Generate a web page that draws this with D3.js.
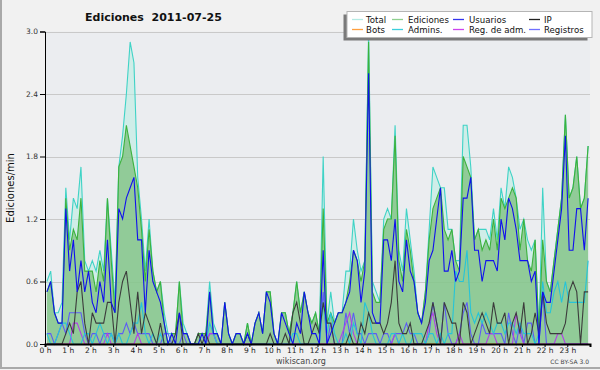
<!DOCTYPE html>
<html>
<head>
<meta charset="utf-8">
<script src="https://cdn.jsdelivr.net/npm/d3@7/dist/d3.min.js"></script>
<style>
  body { margin: 0; background: #f1f1f1; }
  svg { display: block; }
</style>
</head>
<body>
<script>
/* global d3 */

// one value per 10 minutes, one row per hour (0 h .. 23 h)
const total = [
  0.6, 0.7, 0.3, 0.3, 0.4, 1.5,
  1.0, 1.4, 1.3, 1.7, 0.8, 0.7,
  0.8, 0.7, 0.9, 0.7, 1.4, 0.9,
  0.4, 1.7, 2.0, 2.4, 2.9, 2.7,
  1.6, 1.2, 0.7, 1.2, 0.7, 0.5,
  0.6, 0.3, 0.1, 0.1, 0.1, 0.6,
  0.2, 0.1, 0.0, 0.0, 0.1, 0.1,
  0.1, 0.6, 0.2, 0.1, 0.0, 0.4,
  0.1, 0.0, 0.1, 0.1, 0.0, 0.2,
  0.0, 0.2, 0.3, 0.1, 0.5, 0.5,
  0.1, 0.0, 0.3, 0.3, 0.1, 0.3,
  0.6, 0.3, 0.5, 0.3, 0.2, 0.3,
  0.1, 1.8, 0.2, 0.5, 0.2, 0.3,
  0.3, 0.7, 0.7, 1.2, 0.9, 0.7,
  0.8, 3.0, 0.6, 0.5, 0.4, 1.2,
  1.3, 1.2, 2.1, 0.9, 0.7, 1.3,
  1.0, 0.7, 0.3, 0.2, 0.5, 1.1,
  1.7, 1.6, 1.5, 1.5, 1.1, 1.1,
  0.8, 0.8, 2.1, 2.1, 1.7, 1.0,
  1.1, 1.1, 1.1, 1.0, 1.3, 1.0,
  1.5, 1.3, 1.7, 1.6, 1.4, 1.1,
  1.2, 1.0, 0.9, 1.0, 0.1, 1.5,
  0.6, 0.5, 0.8, 1.1, 1.4, 2.2,
  1.4, 1.5, 1.8, 1.3, 1.4, 1.9
];
const ediciones = [
  0.5, 0.6, 0.3, 0.2, 0.2, 1.4,
  0.9, 1.1, 1.0, 1.4, 0.7, 0.7,
  0.7, 0.5, 0.8, 0.6, 1.4, 0.8,
  0.3, 1.7, 1.8, 2.1, 1.9, 1.7,
  1.5, 1.1, 0.6, 1.1, 0.7, 0.5,
  0.6, 0.2, 0.0, 0.1, 0.1, 0.6,
  0.1, 0.1, 0.0, 0.0, 0.1, 0.1,
  0.1, 0.5, 0.1, 0.1, 0.0, 0.4,
  0.1, 0.0, 0.1, 0.1, 0.0, 0.2,
  0.0, 0.2, 0.3, 0.1, 0.5, 0.5,
  0.1, 0.0, 0.3, 0.3, 0.1, 0.3,
  0.6, 0.3, 0.5, 0.3, 0.2, 0.3,
  0.1, 1.3, 0.2, 0.3, 0.2, 0.3,
  0.3, 0.4, 0.6, 0.9, 0.8, 0.6,
  0.8, 2.9, 0.5, 0.4, 0.4, 1.1,
  1.2, 1.2, 2.0, 0.8, 0.6, 1.1,
  0.9, 0.6, 0.3, 0.2, 0.5, 1.0,
  1.3, 1.4, 1.5, 1.1, 1.0, 1.1,
  0.8, 0.7, 1.8, 1.7, 1.6, 1.0,
  1.1, 0.9, 1.0, 0.9, 1.2, 0.9,
  1.4, 1.3, 1.4, 1.5, 1.4, 0.9,
  1.2, 0.8, 0.7, 1.0, 0.1, 1.0,
  0.6, 0.5, 0.8, 1.1, 1.4, 2.2,
  1.4, 1.5, 1.8, 1.3, 1.4, 1.9
];
const usuarios = [
  0.5, 0.6, 0.3, 0.2, 0.2, 1.3,
  0.7, 1.0, 0.5, 0.8, 0.5, 0.7,
  0.4, 0.3, 0.6, 0.4, 1.0, 0.4,
  0.3, 1.3, 1.2, 1.4, 1.5, 1.6,
  1.0, 1.0, 0.3, 0.9, 0.6, 0.5,
  0.4, 0.2, 0.0, 0.1, 0.0, 0.3,
  0.1, 0.1, 0.0, 0.0, 0.0, 0.1,
  0.0, 0.5, 0.1, 0.1, 0.0, 0.4,
  0.1, 0.0, 0.1, 0.1, 0.0, 0.1,
  0.0, 0.2, 0.3, 0.1, 0.5, 0.4,
  0.1, 0.0, 0.3, 0.2, 0.1, 0.0,
  0.2, 0.1, 0.5, 0.3, 0.1, 0.1,
  0.0, 0.9, 0.0, 0.1, 0.2, 0.3,
  0.3, 0.4, 0.5, 0.9, 0.8, 0.4,
  0.7, 2.6, 0.3, 0.2, 0.2, 1.0,
  1.0, 0.8, 1.2, 0.6, 0.5, 1.0,
  0.7, 0.6, 0.3, 0.2, 0.4, 0.8,
  0.9, 1.2, 1.5, 0.7, 0.7, 0.9,
  0.6, 0.7, 1.4, 1.4, 1.6, 0.9,
  0.9, 0.6, 0.8, 0.8, 0.8, 0.7,
  1.2, 1.0, 1.4, 1.3, 1.1, 0.8,
  0.8, 0.8, 0.6, 0.7, 0.0, 0.5,
  0.4, 0.4, 0.7, 1.0, 1.3, 2.0,
  0.9, 0.9, 1.3, 1.3, 0.9, 1.4
];
const ip = [
  0.0, 0.0, 0.0, 0.0, 0.0, 0.1,
  0.2, 0.1, 0.5, 0.6, 0.2, 0.0,
  0.3, 0.2, 0.2, 0.2, 0.4, 0.4,
  0.0, 0.4, 0.6, 0.7, 0.4, 0.1,
  0.5, 0.1, 0.3, 0.2, 0.1, 0.0,
  0.2, 0.0, 0.0, 0.0, 0.1, 0.3,
  0.0, 0.0, 0.0, 0.0, 0.1, 0.0,
  0.1, 0.0, 0.0, 0.0, 0.0, 0.0,
  0.0, 0.0, 0.0, 0.0, 0.0, 0.1,
  0.0, 0.0, 0.0, 0.0, 0.0, 0.1,
  0.0, 0.0, 0.0, 0.1, 0.0, 0.3,
  0.4, 0.2, 0.0, 0.0, 0.1, 0.2,
  0.1, 0.4, 0.2, 0.2, 0.0, 0.0,
  0.0, 0.0, 0.1, 0.0, 0.0, 0.2,
  0.1, 0.3, 0.2, 0.2, 0.2, 0.1,
  0.2, 0.4, 0.8, 0.2, 0.1, 0.1,
  0.2, 0.0, 0.0, 0.0, 0.1, 0.2,
  0.4, 0.2, 0.0, 0.4, 0.3, 0.2,
  0.2, 0.0, 0.4, 0.3, 0.0, 0.1,
  0.2, 0.3, 0.2, 0.1, 0.4, 0.2,
  0.2, 0.3, 0.0, 0.2, 0.3, 0.1,
  0.4, 0.0, 0.1, 0.3, 0.1, 0.5,
  0.2, 0.1, 0.1, 0.1, 0.1, 0.2,
  0.5, 0.6, 0.5, 0.0, 0.5, 0.5
];
const bots = [
  0, 0, 0, 0, 0, 0,  0, 0, 0, 0, 0, 0,  0, 0, 0, 0, 0, 0,  0, 0, 0, 0, 0, 0,
  0, 0, 0, 0, 0, 0,  0, 0, 0, 0, 0, 0,  0, 0, 0, 0, 0, 0,  0, 0, 0, 0, 0, 0,
  0, 0, 0, 0, 0, 0,  0, 0, 0, 0, 0, 0,  0, 0, 0, 0, 0, 0,  0, 0, 0, 0, 0, 0,
  0, 0, 0, 0, 0, 0,  0, 0, 0, 0, 0, 0,  0, 0, 0, 0, 0, 0,  0, 0, 0, 0, 0, 0,
  0, 0, 0, 0, 0, 0,  0, 0, 0, 0, 0, 0,  0, 0, 0, 0, 0, 0,  0, 0, 0, 0, 0, 0,
  0, 0, 0, 0, 0, 0,  0, 0, 0, 0, 0, 0,  0, 0, 0, 0, 0, 0,  0, 0, 0, 0, 0, 0
];
const admins = [
  0.1, 0.0, 0.0, 0.1, 0.2, 0.2,
  0.1, 0.0, 0.0, 0.0, 0.1, 0.1,
  0.0, 0.1, 0.2, 0.1, 0.0, 0.1,
  0.0, 0.1, 0.0, 0.0, 0.1, 0.2,
  0.2, 0.4, 0.1, 0.0, 0.1, 0.0,
  0.1, 0.0, 0.0, 0.0, 0.0, 0.0,
  0.0, 0.0, 0.0, 0.0, 0.0, 0.0,
  0.0, 0.2, 0.1, 0.0, 0.0, 0.0,
  0.0, 0.0, 0.0, 0.0, 0.0, 0.1,
  0.0, 0.0, 0.0, 0.0, 0.0, 0.0,
  0.0, 0.0, 0.0, 0.0, 0.0, 0.1,
  0.1, 0.0, 0.0, 0.0, 0.0, 0.0,
  0.0, 0.4, 0.1, 0.3, 0.1, 0.0,
  0.0, 0.1, 0.0, 0.2, 0.1, 0.0,
  0.4, 0.3, 0.1, 0.0, 0.0, 0.0,
  0.0, 0.1, 0.1, 0.0, 0.1, 0.0,
  0.0, 0.1, 0.1, 0.1, 0.0, 0.1,
  0.1, 0.0, 0.1, 0.0, 0.1, 0.1,
  0.7, 0.6, 0.6, 0.9, 0.3, 0.2,
  0.3, 0.2, 0.3, 0.2, 0.1, 0.2,
  0.2, 0.1, 0.2, 0.2, 0.1, 0.2,
  0.1, 0.1, 0.1, 0.0, 0.1, 0.6,
  0.3, 0.3, 0.5, 0.6, 0.4, 0.6,
  0.4, 0.4, 0.4, 0.4, 0.4, 0.8
];
const regAdm = [
  0.0, 0.0, 0.0, 0.0, 0.0, 0.0,
  0.0, 0.2, 0.2, 0.1, 0.0, 0.0,
  0.0, 0.0, 0.0, 0.0, 0.1, 0.0,
  0.0, 0.0, 0.0, 0.0, 0.0, 0.0,
  0.1, 0.0, 0.0, 0.0, 0.0, 0.0,
  0.0, 0.0, 0.0, 0.0, 0.0, 0.0,
  0.0, 0.0, 0.0, 0.0, 0.0, 0.0,
  0.0, 0.1, 0.1, 0.0, 0.0, 0.0,
  0.0, 0.0, 0.0, 0.0, 0.0, 0.0,
  0.0, 0.0, 0.0, 0.0, 0.0, 0.0,
  0.0, 0.0, 0.0, 0.0, 0.0, 0.0,
  0.0, 0.0, 0.0, 0.0, 0.0, 0.0,
  0.0, 0.0, 0.0, 0.0, 0.0, 0.0,
  0.1, 0.2, 0.3, 0.1, 0.0, 0.0,
  0.0, 0.0, 0.0, 0.0, 0.0, 0.0,
  0.0, 0.0, 0.1, 0.0, 0.0, 0.0,
  0.0, 0.0, 0.0, 0.0, 0.0, 0.2,
  0.3, 0.1, 0.0, 0.0, 0.0, 0.0,
  0.0, 0.1, 0.0, 0.0, 0.0, 0.0,
  0.0, 0.0, 0.0, 0.1, 0.1, 0.0,
  0.0, 0.0, 0.0, 0.0, 0.3, 0.1,
  0.0, 0.0, 0.0, 0.0, 0.0, 0.0,
  0.0, 0.0, 0.0, 0.1, 0.1, 0.0,
  0.0, 0.0, 0.0, 0.0, 0.0, 0.0
];
const registros = [
  0.1, 0.1, 0.0, 0.1, 0.2, 0.1,
  0.3, 0.3, 0.3, 0.3, 0.1, 0.0,
  0.1, 0.1, 0.0, 0.1, 0.1, 0.1,
  0.0, 0.1, 0.1, 0.2, 0.1, 0.2,
  0.1, 0.1, 0.1, 0.1, 0.0, 0.0,
  0.0, 0.1, 0.1, 0.0, 0.0, 0.0,
  0.1, 0.0, 0.0, 0.0, 0.0, 0.0,
  0.0, 0.1, 0.1, 0.0, 0.0, 0.0,
  0.0, 0.0, 0.0, 0.0, 0.0, 0.0,
  0.0, 0.0, 0.0, 0.0, 0.0, 0.0,
  0.0, 0.0, 0.0, 0.0, 0.0, 0.0,
  0.0, 0.0, 0.0, 0.0, 0.0, 0.0,
  0.0, 0.5, 0.0, 0.2, 0.0, 0.0,
  0.0, 0.3, 0.1, 0.3, 0.1, 0.1,
  0.0, 0.1, 0.1, 0.1, 0.0, 0.1,
  0.1, 0.0, 0.1, 0.1, 0.1, 0.2,
  0.1, 0.1, 0.0, 0.0, 0.0, 0.1,
  0.4, 0.2, 0.0, 0.4, 0.1, 0.0,
  0.0, 0.1, 0.3, 0.4, 0.1, 0.0,
  0.0, 0.2, 0.1, 0.1, 0.1, 0.1,
  0.1, 0.0, 0.3, 0.1, 0.0, 0.2,
  0.0, 0.2, 0.2, 0.0, 0.0, 0.5,
  0.0, 0.0, 0.0, 0.0, 0.0, 0.0,
  0.0, 0.0, 0.0, 0.0, 0.0, 0.0
];

const hours = d3.range(0, 24);
const yTicks = [0, 0.6, 1.2, 1.8, 2.4, 3.0];

/** lines drawn over the two areas, bottom-most first */
const lineSeries = [
  { name: "Bots", data: bots, color: "#ff9933" },
  { name: "Registros", data: registros, color: "#5c5cf5" },
  { name: "Reg. de adm.", data: regAdm, color: "#b23ee8" },
  { name: "Admins.", data: admins, color: "#26c4d8" },
  { name: "IP", data: ip, color: "#3c3c3c" },
  { name: "Usuarios", data: usuarios, color: "#1010ee" }
];

const legendRows = [
  [["Total", "#b4ebe4"], ["Ediciones", "#8fd08f"], ["Usuarios", "#3434ee"], ["IP", "#222"]],
  [["Bots", "#ffa040"], ["Admins.", "#3ccfdc"], ["Reg. de adm.", "#cc44ee"], ["Registros", "#7070ff"]]
];

const W = 600, H = 370;
const plot = { left: 45, right: 590, top: 31.5, bottom: 344 };

let svg = d3.select("body").append("svg")
  .attr("width", W).attr("height", H)
  .style("font-family", "'DejaVu Sans', sans-serif");

svg.append("rect").attr("width", W).attr("height", H).attr("fill", "#f1f1f1");
// frame on the left and bottom edge
svg.append("path").attr("d", "M1,0V368H600")
  .attr("fill", "none").attr("stroke", "#a9a9a9").attr("stroke-width", 2);

// minutes of the day -> px ; points sit in the middle of their 10 min bin
let x = d3.scaleLinear().domain([0, 24 * 60]).range([plot.left, plot.right]);
let y = d3.scaleLinear().domain([0, 3]).range([plot.bottom, plot.top]);
let xi = (d, i) => x(i * 10 + 5);

svg.append("rect")
  .attr("x", plot.left).attr("y", plot.top)
  .attr("width", plot.right - plot.left).attr("height", plot.bottom - plot.top)
  .attr("fill", "#ebedf0");

svg.append("g").selectAll("line")
  .data(yTicks.slice(1))
  .join("line")
  .attr("x1", plot.left).attr("x2", plot.right)
  .attr("y1", d => Math.round(y(d)) + 0.5).attr("y2", d => Math.round(y(d)) + 0.5)
  .attr("stroke", "#c9c9c9");

let area = d3.area().x(xi).y0(y(0)).y1(d => y(d));
let line = d3.line().x(xi).y(d => y(d));

svg.append("path").attr("d", area(total))
  .attr("fill", "#b8ece2").attr("fill-opacity", 0.55);
svg.append("path").attr("d", line(total))
  .attr("fill", "none").attr("stroke", "#3fd3c6").attr("stroke-width", 1.1);
svg.append("path").attr("d", area(ediciones))
  .attr("fill", "#78be78").attr("fill-opacity", 0.72);
svg.append("path").attr("d", line(ediciones))
  .attr("fill", "none").attr("stroke", "#3cb23c").attr("stroke-width", 1.1);

svg.append("g").selectAll("path")
  .data(lineSeries)
  .join("path")
  .attr("d", s => line(s.data))
  .attr("fill", "none")
  .attr("stroke", s => s.color)
  .attr("stroke-width", 1.1);

// x axis : 10 min ticks, hour labels
let gx = svg.append("g").attr("transform", `translate(0,${plot.bottom})`);
gx.call(d3.axisBottom(x).tickValues(d3.range(0, 24 * 60 + 1, 10)).tickSize(3).tickFormat(""));
gx.call(d3.axisBottom(x).tickValues(hours.map(h => h * 60)).tickSize(3)
  .tickFormat(d => d / 60 + " h"));
gx.select(".domain").attr("stroke-width", 2);
gx.selectAll("text").attr("dy", "0.45em").attr("font-size", 7.5)
  .attr("font-family", "'DejaVu Sans', sans-serif").attr("fill", "#222");

// y axis : 0.1 minor ticks, labels every 0.6
let gy = svg.append("g").attr("transform", `translate(${plot.left},0)`);
gy.call(d3.axisLeft(y).tickValues(d3.range(0, 31).map(d => d / 10)).tickSize(2).tickFormat(""));
gy.call(d3.axisLeft(y).tickValues(yTicks).tickSize(5).tickPadding(2)
  .tickFormat(d3.format(".1f")));
gy.selectAll("text").attr("font-size", 7.5)
  .attr("font-family", "'DejaVu Sans', sans-serif").attr("fill", "#333");

svg.append("text")
  .attr("transform", "translate(13.5,188) rotate(-90)")
  .attr("text-anchor", "middle").attr("font-size", 10).attr("fill", "#111")
  .text("Ediciones/min");

svg.append("text")
  .attr("x", 85).attr("y", 21)
  .style("white-space", "pre")
  .attr("font-size", 11).attr("font-weight", "bold").attr("fill", "#111")
  .text("Ediciones  2011-07-25");

svg.append("text")
  .attr("x", 301).attr("y", 364).attr("text-anchor", "middle")
  .attr("font-size", 8).attr("fill", "#444")
  .text("wikiscan.org");
svg.append("text")
  .attr("x", 589).attr("y", 364).attr("text-anchor", "end")
  .attr("font-size", 6).attr("fill", "#444")
  .text("CC BY-SA 3.0");

// legend box with its shadow
let gl = svg.append("g");
gl.append("rect").attr("x", 343.5).attr("y", 14.5).attr("width", 244).attr("height", 26)
  .attr("fill", "#7a7a7a");
gl.append("rect").attr("x", 347).attr("y", 11.5).attr("width", 245).attr("height", 26)
  .attr("fill", "#fff").attr("stroke", "#b5b5b5");

const colSwatch = [352, 392, 453, 529];
const colText = [366, 408, 469, 544];
legendRows.forEach((row, r) => {
  let ly = 19 + r * 10;
  let items = gl.append("g").selectAll("g")
    .data(row)
    .join("g");
  items.append("line")
    .attr("x1", (d, i) => colSwatch[i]).attr("x2", (d, i) => colSwatch[i] + 11)
    .attr("y1", ly + 0.5).attr("y2", ly + 0.5)
    .attr("stroke", d => d[1]).attr("stroke-width", 1.3);
  items.append("text")
    .attr("x", (d, i) => colText[i]).attr("y", ly + 3.5)
    .attr("font-size", 8.6).attr("fill", "#111")
    .text(d => d[0]);
});
</script>
</body>
</html>
